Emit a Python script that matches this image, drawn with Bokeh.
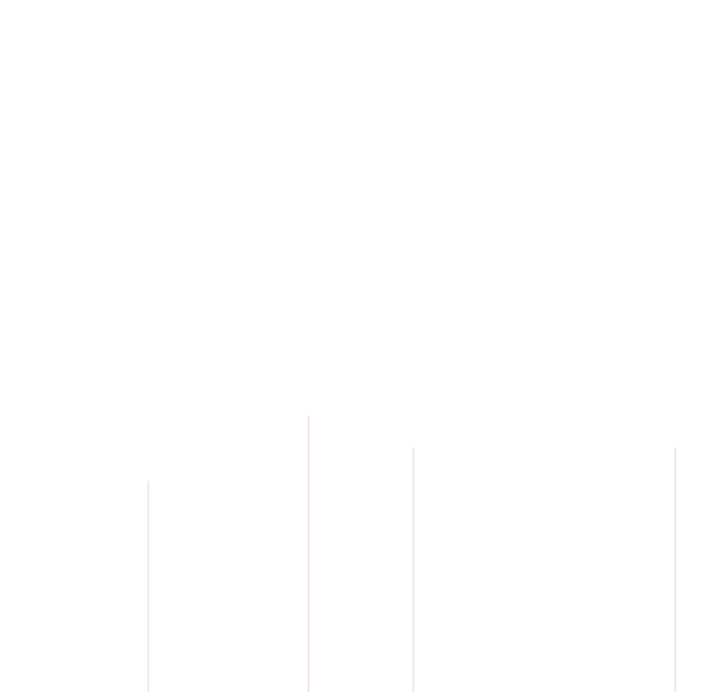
from bokeh.plotting import figure
from bokeh.embed import file_html
from bokeh.resources import INLINE
from bokeh.models import Range1d

# Data read from the (very faded) reference: stick positions and heights
positions = [21.0, 43.75, 58.65, 95.85]
heights = [30.6, 40.0, 35.4, 35.4]
colors = ["#ececec", "#f0e4e9", "#eaeaea", "#ececec"]
bases = [0, 0, 0, 0]

p = figure(width=704, height=692, output_backend="svg", toolbar_location=None,
           x_range=Range1d(0, 100), y_range=Range1d(0, 100),
           min_border=0)
p.axis.visible = False
p.grid.visible = False
p.outline_line_color = None
p.background_fill_color = "white"
p.border_fill_color = "white"

p.segment(x0=positions, y0=bases, x1=positions, y1=heights,
          line_color=colors, line_width=2)

open("out.html", "w").write(file_html(p, INLINE))
